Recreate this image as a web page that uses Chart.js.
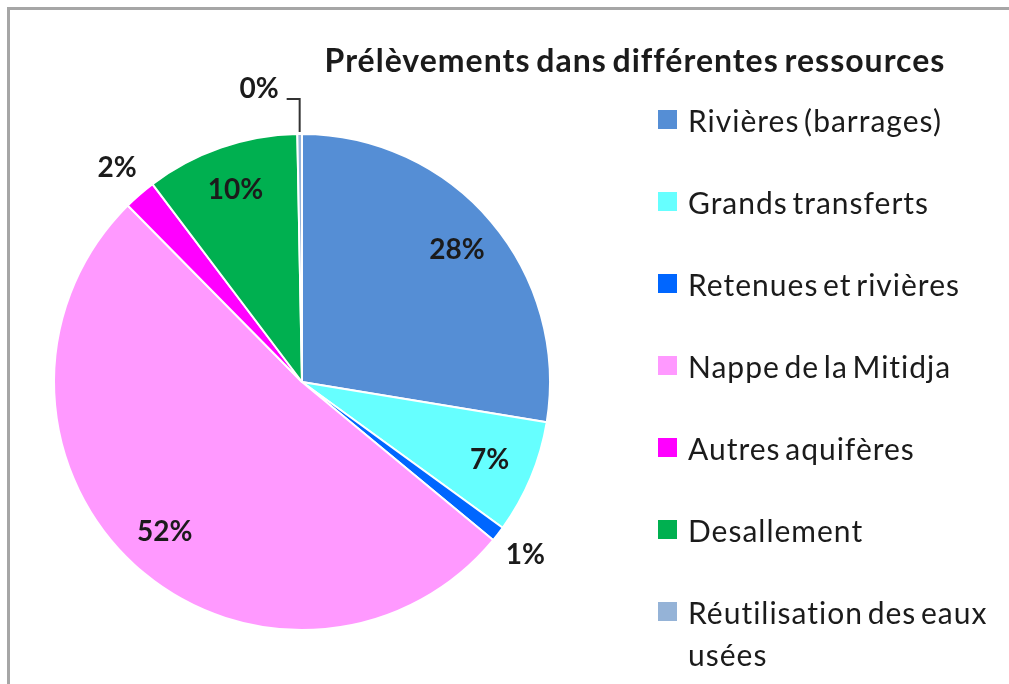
<!DOCTYPE html>
<html lang="fr">
<head>
<meta charset="utf-8">
<title>Prélèvements dans différentes ressources</title>
<script src="https://cdn.jsdelivr.net/npm/chart.js@4.4.0/dist/chart.umd.min.js"></script>
<style>
  html, body { margin: 0; padding: 0; background: #fff; }
  #cadre {
    position: relative;
    width: 1009px;
    height: 684px;
    overflow: hidden;
    font-family: Lato, "Open Sans", sans-serif;
    color: #1b1b1b;
  }
  #cadre::before {
    content: "";
    position: absolute;
    left: 7px; top: 7px; right: 0; bottom: 0;
    border-top: 3px solid #a6a6a6;
    border-left: 3px solid #a6a6a6;
    pointer-events: none;
  }
  canvas { position: absolute; left: 0; top: 0; }
  #titre {
    position: absolute;
    left: 290px; width: 690px; top: 39px;
    text-align: center;
    font-weight: bold;
    font-size: 32px;
    letter-spacing: 1px;
    word-spacing: -3px;
    line-height: 42px;
    white-space: nowrap;
  }
  #legende { position: absolute; left: 658px; top: 0; }
  .item { position: absolute; left: 0; width: 350px; }
  .item span.carre {
    position: absolute; left: 0; top: 11px;
    width: 19px; height: 19px;
  }
  .item span.txt {
    position: absolute; left: 30px; top: 0;
    width: 315px;
    font-size: 30px;
    letter-spacing: 1px;
    word-spacing: -4px;
    line-height: 42px;
  }
</style>
</head>
<body>
<div id="cadre">
  <canvas id="graphique" width="1009" height="684"></canvas>
  <div id="titre">Prélèvements dans différentes ressources</div>
  <div id="legende"></div>
</div>
<script>
const categories = [
  "Rivières (barrages)",
  "Grands transferts",
  "Retenues et rivières",
  "Nappe de la Mitidja",
  "Autres aquifères",
  "Desallement",
  "Réutilisation des eaux usées"
];
const valeurs = [27.6, 7.4, 1.0, 51.6, 2.1, 10.0, 0.3];
const couleurs = ["#558ed5", "#66ffff", "#0066ff", "#ff99ff", "#ff00ff", "#00b050", "#95b3d7"];

// Legende a droite (HTML, pour le retour a la ligne du dernier libelle)
const legende = document.getElementById("legende");
categories.forEach((nom, i) => {
  const div = document.createElement("div");
  div.className = "item";
  div.style.top = (99 + i * 82) + "px";
  div.innerHTML = `<span class="carre" style="background:${couleurs[i]}"></span><span class="txt">${nom}</span>`;
  legende.appendChild(div);
});

// Etiquettes de pourcentage
const etiquettes = {
  id: "etiquettes",
  afterDatasetsDraw(chart) {
    const ctx = chart.ctx;
    const total = valeurs.reduce((a, b) => a + b, 0);
    const arcs = chart.getDatasetMeta(0).data;
    ctx.save();
    ctx.font = "bold 28px Lato, 'Open Sans', sans-serif";
    ctx.fillStyle = "#1b1b1b";
    ctx.textBaseline = "middle";
    arcs.forEach((arc, i) => {
      const p = arc.getProps(["x", "y", "startAngle", "endAngle", "outerRadius"], true);
      const texte = Math.round(valeurs[i] / total * 100) + "%";
      const mid = (p.startAngle + p.endAngle) / 2;
      const part = valeurs[i] / total;
      if (part < 0.005) {
        // tres petite part : trait de rappel
        const x0 = p.x + p.outerRadius * Math.cos(mid);
        const y0 = p.y + p.outerRadius * Math.sin(mid);
        const yl = y0 - 35;
        ctx.strokeStyle = "#333";
        ctx.lineWidth = 2;
        ctx.beginPath();
        ctx.moveTo(x0, y0 - 2);
        ctx.lineTo(x0, yl);
        ctx.lineTo(x0 - 13, yl);
        ctx.stroke();
        ctx.textAlign = "right";
        ctx.fillText(texte, x0 - 21, yl - 10);
      } else {
        const k = part < 0.03 ? 1.14 : 0.82;
        ctx.textAlign = "center";
        ctx.fillText(texte, p.x + p.outerRadius * k * Math.cos(mid), p.y + p.outerRadius * k * Math.sin(mid));
      }
    });
    ctx.restore();
  }
};

new Chart(document.getElementById("graphique"), {
  type: "pie",
  data: {
    labels: categories,
    datasets: [{
      data: valeurs,
      backgroundColor: couleurs,
      borderColor: "#ffffff",
      borderWidth: 2
    }]
  },
  options: {
    responsive: false,
    animation: false,
    layout: { padding: { left: 53, top: 133, right: 458, bottom: 53 } },
    plugins: {
      legend: { display: false },
      title: { display: false },
      tooltip: { enabled: false }
    }
  },
  plugins: [etiquettes]
});
</script>
</body>
</html>
